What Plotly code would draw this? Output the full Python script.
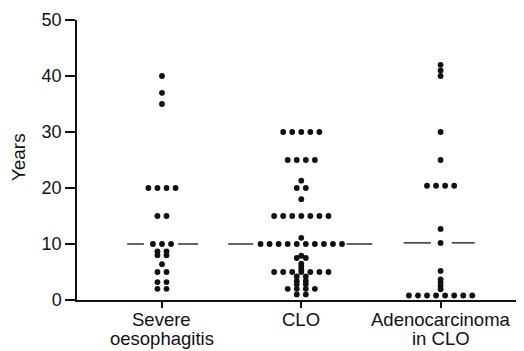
import plotly.graph_objects as go
from collections import Counter

categories = ["Severe<br>oesophagitis", "CLO", "Adenocarcinoma<br>in CLO"]
severe = [40, 37, 35, 20, 20, 20, 20, 15, 15, 10, 10, 10, 8.7, 8.7, 8, 8, 6.4,
          5, 5, 3.2, 3.2, 2, 2]
clo = [30, 30, 30, 30, 30, 25, 25, 25, 25, 21.3, 20, 20, 18,
       15, 15, 15, 15, 15, 15, 15, 11.1,
       10, 10, 10, 10, 10, 10, 10, 10, 10, 10,
       7.9, 7.5, 7.5, 6.5, 6, 5.5, 5, 5, 5, 5, 5, 5, 5,
       4.2, 4.2, 3.4, 3.4, 2.8, 2.8, 2, 2, 2, 2, 1, 1]
adeno = [42, 41, 40, 30, 25, 20.4, 20.4, 20.4, 20.4, 12.7, 10.2, 5.2,
         3.7, 3.1, 2.5, 1.9, 0.8, 0.8, 0.8, 0.8, 0.8, 0.8, 0.8, 0.8]
medians = [10, 10, 10.2]
yticks = [0, 10, 20, 30, 40, 50]
y_title = "Years"

series = [severe, clo, adeno]
STEP = 0.065  # horizontal spacing between tied dots (category units)
# median dash segments (inner/outer offsets from category centre)
dash_segments = [
    [(-0.25, -0.13), (0.115, 0.26)],
    [(-0.525, -0.345), (0.325, 0.51)],
    [(-0.265, -0.07), (0.08, 0.245)],
]
INK = "#111111"
FAMILY = "Liberation Sans, Arial, sans-serif"
PAGE_PAD = 8  # default body margin of the html page

fig = go.Figure()
for gi, vals in enumerate(series):
    centre = gi + 1
    counts = Counter(vals)
    seen = Counter()
    xs, ys = [], []
    for v in vals:
        n = counts[v]
        i = seen[v]
        seen[v] += 1
        xs.append(centre + (i - (n - 1) / 2) * STEP)
        ys.append(v)
    fig.add_trace(go.Scatter(x=xs, y=ys, mode="markers",
                             marker=dict(size=5.8, color=INK),
                             showlegend=False, hoverinfo="y"))
    for (a, b) in dash_segments[gi]:
        fig.add_shape(type="line", xref="x", yref="y",
                      x0=centre + a, x1=centre + b,
                      y0=medians[gi], y1=medians[gi],
                      line=dict(color=INK, width=1.3))

# category labels (two lines each, tight spacing)
for gi, label in enumerate(categories):
    for li, line in enumerate(label.split("<br>")):
        fig.add_annotation(x=gi + 1, xref="x", y=0, yref="paper",
                           text=line, showarrow=False, borderpad=0,
                           xanchor="center", yanchor="middle",
                           yshift=-(19 + 19 * li),
                           font=dict(family=FAMILY, size=18.5, color=INK))

fig.add_annotation(x=0, xref="paper", xshift=-59, y=0.51, yref="paper",
                   text=y_title, textangle=-90, showarrow=False,
                   xanchor="center", yanchor="middle",
                   font=dict(family=FAMILY, size=19, color=INK))

fig.update_layout(
    width=524 - PAGE_PAD, height=351 - PAGE_PAD,
    margin=dict(l=77 - PAGE_PAD, r=4, t=20 - PAGE_PAD, b=51),
    paper_bgcolor="white", plot_bgcolor="white",
    font=dict(family=FAMILY, size=18, color=INK),
    xaxis=dict(range=[0.39, 3.57], tickvals=[1, 2, 3], ticktext=["", "", ""],
               showline=True, linecolor=INK, linewidth=1.5,
               ticks="outside", ticklen=6, tickcolor=INK, tickwidth=1.5,
               showgrid=False, zeroline=False, automargin=False),
    yaxis=dict(range=[0, 50], tickvals=yticks,
               showline=True, linecolor=INK, linewidth=1.5,
               ticks="outside", ticklen=10, tickcolor=INK, tickwidth=1.5,
               showgrid=False, zeroline=False, automargin=False,
               tickfont=dict(family=FAMILY, size=18, color=INK)),
)
fig.write_html("out.html")
